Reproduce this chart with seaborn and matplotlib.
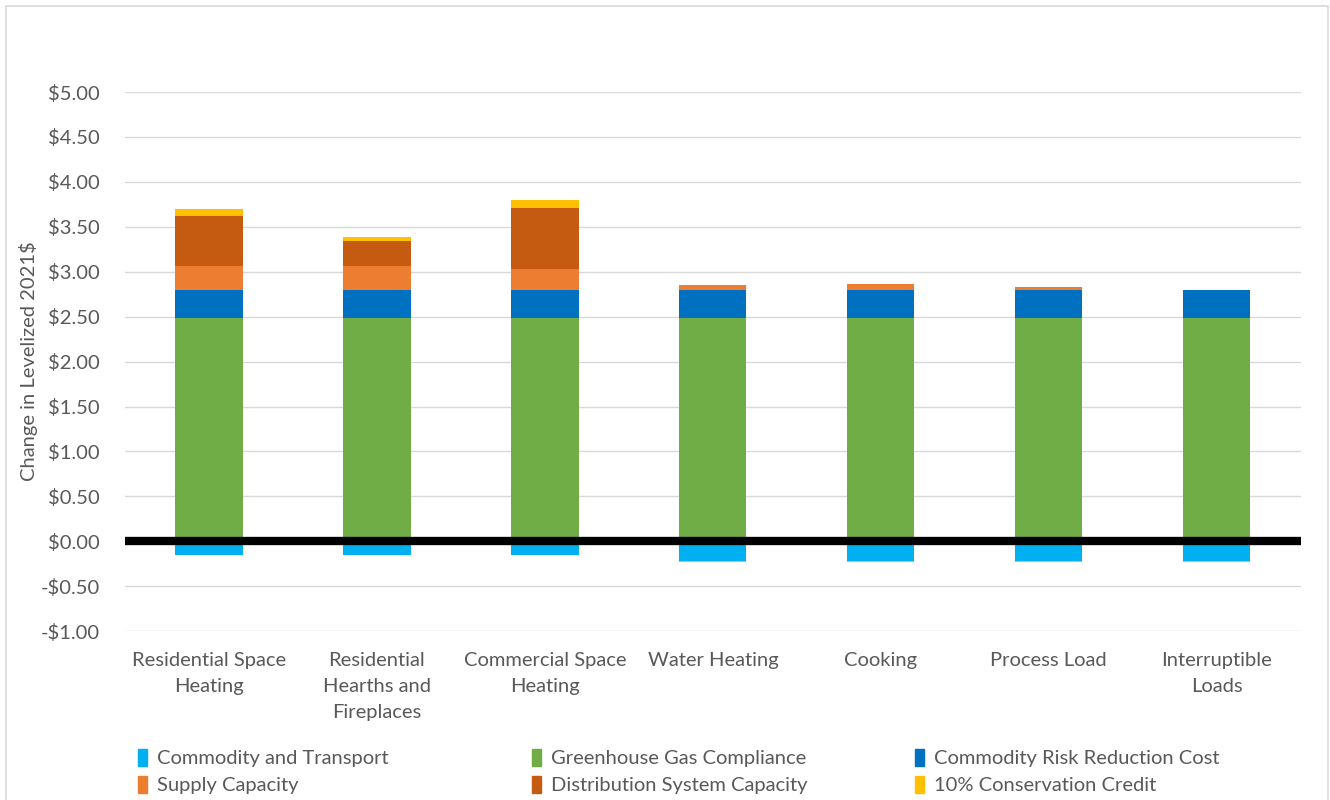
#Change in levelized cost by end use - stacked bars

#Imports
import pandas as pd
import matplotlib
matplotlib.use('Agg')
import matplotlib.pyplot as plt
import matplotlib.patches as mpatches
from matplotlib.ticker import FuncFormatter
import seaborn as sns

#Data
categorias = ['Residential Space\nHeating', 'Residential\nHearths and\nFireplaces',
              'Commercial Space\nHeating', 'Water Heating', 'Cooking',
              'Process Load', 'Interruptible\nLoads']
commodity_transport = [-0.15, -0.15, -0.15, -0.22, -0.22, -0.22, -0.22]
ghg_compliance = [2.48, 2.48, 2.48, 2.48, 2.48, 2.48, 2.48]
risk_reduction = [0.32, 0.32, 0.32, 0.32, 0.32, 0.32, 0.32]
supply_capacity = [0.26, 0.26, 0.23, 0.05, 0.06, 0.03, 0.0]
dist_capacity = [0.56, 0.28, 0.68, 0.0, 0.0, 0.0, 0.0]
conservation = [0.08, 0.05, 0.09, -0.01, -0.01, -0.01, -0.015]

series_nomes = ['Commodity and Transport', 'Greenhouse Gas Compliance', 'Commodity Risk Reduction Cost',
                'Supply Capacity', 'Distribution System Capacity', '10% Conservation Credit']
cores = ['#00B0F0', '#70AD47', '#0070C0', '#ED7D31', '#C55A11', '#FFC000']

df = pd.DataFrame({'Uso': categorias,
                   'ct': commodity_transport,
                   'ghg': ghg_compliance,
                   'risk': risk_reduction,
                   'supply': supply_capacity,
                   'dist': dist_capacity,
                   'cons': conservation})

#Bases das pilhas (positivo para cima, negativo para baixo)
pos = pd.Series(0.0, index=df.index)
neg = pd.Series(0.0, index=df.index)

#Estilo
sns.set_style('white')
plt.rcParams['font.family'] = ['Lato', 'DejaVu Sans']
cinza = '#595959'
fs = 14.5

fig = plt.figure(figsize=(13.3, 8), dpi=100)
ax = fig.add_axes([0.094, 0.211, 0.884, 0.674])

ordem = ['ct', 'ghg', 'risk', 'supply', 'dist', 'cons']
for col, nome, cor in zip(ordem, series_nomes, cores):
    vals = df[col]
    base = neg.where(vals < 0, pos)
    sns.barplot(x='Uso', y=col, data=df, bottom=base.values, color=cor,
                width=0.4, saturation=1, errorbar=None, ax=ax, zorder=2,
                linewidth=0)
    pos = pos + vals.clip(lower=0)
    neg = neg + vals.clip(upper=0)

#Linha do zero
ax.axhline(0, color='black', lw=6, zorder=4)

#Eixos
ax.set_ylim(-1, 5)
ax.set_xlim(-0.5, 6.5)
ax.set_yticks([i * 0.5 for i in range(-2, 11)])
ax.yaxis.set_major_formatter(FuncFormatter(lambda v, p: f'-${abs(v):.2f}' if v < 0 else f'${v:.2f}'))
ax.grid(axis='y', color='#D9D9D9', lw=1, zorder=0)
ax.set_axisbelow(True)
sns.despine(ax=ax, left=True, bottom=True)
ax.tick_params(axis='both', length=0, labelsize=fs, labelcolor=cinza)
ax.tick_params(axis='y', pad=18)
ax.tick_params(axis='x', pad=15)
for t in ax.get_xticklabels():
    t.set_linespacing(1.65)
ax.set_xlabel('')
ax.set_ylabel('Change in Levelized 2021$', fontsize=fs, color=cinza, labelpad=2)

#Legenda (tres colunas, duas linhas)
handles = [mpatches.Patch(color=c, label=n) for n, c in zip(series_nomes, cores)]
colunas = [(0, 3, 0.104), (1, 4, 0.400), (2, 5, 0.688)]
for a, b, xpos in colunas:
    leg = fig.legend([handles[a], handles[b]], [series_nomes[a], series_nomes[b]],
                     loc='upper left', bbox_to_anchor=(xpos, 0.064),
                     frameon=False, fontsize=fs, labelcolor=cinza,
                     handlelength=0.45, handleheight=0.9, handletextpad=0.5,
                     labelspacing=0.45, borderpad=0, borderaxespad=0)

#Moldura
fig.patches.append(mpatches.Rectangle((6 / 1330, -0.01), 1322 / 1330, 1 - 6 / 800 + 0.01,
                                      transform=fig.transFigure, fill=False,
                                      edgecolor='#D9D9D9', lw=1.2))

plt.savefig('out.png', dpi=100)
